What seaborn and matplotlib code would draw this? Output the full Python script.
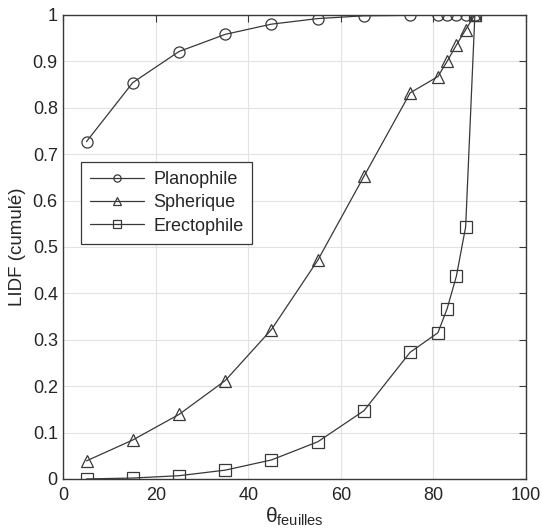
import numpy as np
import pandas as pd
import matplotlib
matplotlib.use("Agg")
import matplotlib.pyplot as plt
import seaborn as sns

# Leaf inclination angles (degrees)
theta = [5, 15, 25, 35, 45, 55, 65, 75, 81, 83, 85, 87, 89]

# Cumulative leaf inclination distribution functions
planophile = [0.727, 0.854, 0.921, 0.958, 0.980, 0.992, 0.998, 0.999, 1.0, 1.0, 1.0, 1.0, 1.0]
spherique = [0.039, 0.084, 0.139, 0.212, 0.322, 0.471, 0.652, 0.832, 0.867, 0.900, 0.935, 0.968, 1.0]
erectophile = [0.0, 0.002, 0.007, 0.019, 0.041, 0.080, 0.147, 0.273, 0.315, 0.367, 0.437, 0.543, 1.0]

series_names = ["Planophile", "Spherique", "Erectophile"]
series_markers = ["o", "^", "s"]

df = pd.DataFrame({
    "theta": theta * 3,
    "lidf": planophile + spherique + erectophile,
    "type": [n for n in series_names for _ in theta],
})

sns.set_style("white")
plt.rcParams["font.family"] = ["Liberation Sans", "DejaVu Sans"]
plt.rcParams["mathtext.fontset"] = "custom"
plt.rcParams["mathtext.rm"] = "Liberation Sans"

ink = "#383838"
txt = "#262626"
fig = plt.figure(figsize=(5.42, 5.31), dpi=100)
ax = fig.add_axes([0.117, 0.098, 0.853, 0.874])

for name, mk in zip(series_names, series_markers):
    sns.lineplot(data=df[df["type"] == name], x="theta", y="lidf", ax=ax,
                 color=ink, linewidth=0.9, marker=mk, markersize=8,
                 mfc="none", mec=ink, mew=0.9, label=name, legend=False)

ax.set_xlim(0, 100)
ax.set_ylim(0, 1)
ax.set_xticks(np.arange(0, 101, 20))
ax.set_yticks(np.arange(0, 1.01, 0.1))
ax.set_yticklabels(["0", "0.1", "0.2", "0.3", "0.4", "0.5", "0.6", "0.7", "0.8", "0.9", "1"])
ax.grid(True, color="#e2e2e2", linewidth=0.8)
ax.tick_params(direction="in", length=5, width=0.8, color=ink, labelsize=13,
               labelcolor=txt, top=True, right=True)
ax.tick_params(axis="x", pad=6)
ax.tick_params(axis="y", pad=4)
for s in ax.spines.values():
    s.set_color(ink)
    s.set_linewidth(1.0)

ax.set_xlabel(r"$\mathrm{θ_{feuilles}}$", fontsize=15, color=txt, labelpad=1)
ax.set_ylabel("LIDF (cumulé)", fontsize=13.5, color=txt, labelpad=5)

leg = ax.legend(loc="upper left", bbox_to_anchor=(0.038, 0.683), fontsize=13,
                handlelength=3.0, markerscale=0.65, fancybox=False, framealpha=1,
                edgecolor=ink, borderpad=0.5, labelspacing=0.35, handletextpad=0.5,
                borderaxespad=0)
leg.get_frame().set_linewidth(0.9)

plt.savefig("out.png", dpi=100)
